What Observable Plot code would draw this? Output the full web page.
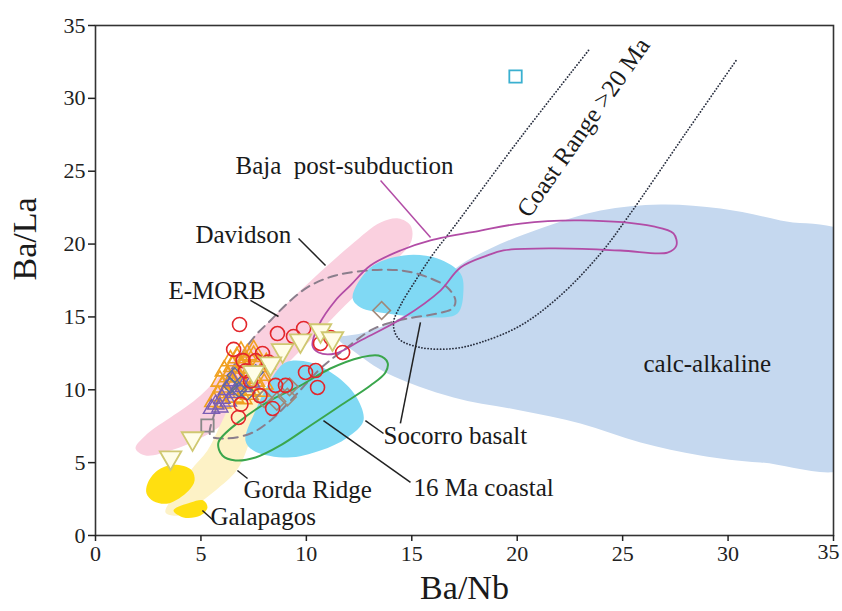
<!DOCTYPE html>
<html>
<head>
<meta charset="utf-8">
<script src="https://cdn.jsdelivr.net/npm/d3@7"></script>
<script src="https://cdn.jsdelivr.net/npm/@observablehq/plot@0.6"></script>
<style>
  html, body { margin: 0; padding: 0; background: #fff; }
  svg { font-family: "Liberation Serif", "Times New Roman", serif; }
</style>
</head>
<body>
<div id="chart"></div>
<script>
// ---- axis ticks ----
const xTicks = [0, 5, 10, 15, 20, 25, 30, 35];
const yTicks = [0, 5, 10, 15, 20, 25, 30, 35];
const lastXTick = [35];

// ---- field outlines (Ba/Nb, Ba/La) ----
const calcAlkaline = [[11.52,13.52],[12.57,13.86],[14.23,14.76],[15.89,16.47],[17.07,18.32],[18.73,19.70],[21.10,21.07],[23.95,22.30],[26.80,22.72],[29.64,22.44],[32.49,21.62],[36.0,20.3],[36.0,4.9],[31.54,5.01],[28.69,5.49],[25.85,6.38],[23.00,7.69],[20.16,8.58],[16.98,9.47],[13.85,11.12],[12.33,12.56]];
const davidson = [[1.90,5.97],[2.37,6.86],[4.98,9.61],[7.35,13.38],[9.72,16.81],[12.09,19.90],[13.52,21.48],[14.37,21.76],[14.94,21.28],[14.99,20.25],[14.23,18.87],[12.57,16.81],[11.14,14.76],[9.72,12.70],[8.06,10.29],[6.88,8.58],[5.22,6.86],[3.56,5.83],[2.37,5.49]];
const gordaRidge = [[3.32,1.58],[3.65,2.61],[4.51,4.46],[5.31,5.83],[6.02,7.89],[6.64,9.61],[7.35,10.29],[8.06,9.75],[7.59,7.89],[7.16,5.83],[6.69,4.46],[5.69,3.09],[4.74,2.06],[3.94,1.37]];
const galapagosA = [[2.47,3.57],[2.94,4.46],[3.70,4.85],[4.55,4.50],[4.70,3.77],[4.40,3.05],[3.46,2.20],[2.75,2.35],[2.42,2.88]];
const galapagosB = [[3.70,1.72],[4.51,2.26],[5.12,2.40],[5.31,1.92],[4.98,1.37],[4.17,1.24]];
const socorro = [[12.19,16.33],[13.04,18.39],[14.61,19.22],[16.22,19.01],[17.31,17.98],[17.45,16.81],[17.17,15.24],[15.89,14.96],[13.85,15.24],[12.57,15.65]];
const coastal16Fill = [[7.11,6.52],[7.59,8.58],[8.30,10.64],[9.01,11.87],[10.20,11.87],[11.38,10.98],[12.33,9.61],[12.71,7.89],[11.95,6.73],[10.67,5.83],[9.11,5.35],[7.49,5.83]];
const eMorb = [[5.45,6.86],[5.69,8.58],[6.17,10.64],[6.88,12.35],[7.59,13.73],[8.30,14.76],[9.25,16.13],[10.20,17.16],[11.38,17.84],[12.90,18.19],[14.46,18.19],[15.65,17.78],[16.69,17.02],[17.07,16.13],[16.93,15.58],[16.22,15.24],[14.80,14.89],[13.85,14.55],[13.04,14.07],[11.86,12.83],[10.67,11.46],[9.48,9.61],[8.30,7.89],[7.35,7.00],[6.17,6.66]];
const bajaPost = [[10.29,13.04],[10.58,14.41],[11.38,16.13],[12.09,17.16],[13.04,18.53],[14.46,19.56],[15.89,20.25],[18.26,20.93],[20.16,21.41],[23.00,21.62],[26.46,21.21],[27.41,20.73],[27.55,19.90],[27.13,19.42],[24.90,19.56],[21.72,19.70],[19.35,19.56],[18.59,19.22],[17.31,18.39],[16.36,16.81],[14.61,14.96],[12.57,13.38],[11.38,12.49],[10.58,12.56]];
const coastal16Line = [[5.83,6.38],[6.88,7.89],[8.30,9.27],[9.72,10.29],[11.14,11.46],[12.57,12.22],[13.42,12.35],[13.85,11.87],[13.75,11.19],[13.04,10.29],[11.62,8.92],[10.20,7.55],[8.77,6.18],[7.59,5.35],[6.64,5.15],[6.02,5.49]];
const coastRange = [[23.38,33.29],[20.16,27.31],[16.98,21.14],[16.03,19.35],[15.18,17.50],[14.46,15.78],[14.13,14.55],[14.37,13.52],[15.41,12.90],[16.98,12.83],[18.26,13.25],[20.16,14.41],[22.05,16.47],[23.95,19.35],[25.23,21.82],[28.08,27.80],[30.45,32.74]];

// ---- samples ----
const redCircles = [[6.83,14.48],[6.55,12.77],[8.63,13.86],[9.39,13.66],[9.87,14.21],[10.67,13.18],[11.15,13.59],[11.72,12.56],[7.92,12.49],[9.96,11.19],[10.44,11.32],[10.53,10.16],[8.54,10.30],[9.01,10.30],[8.40,8.72],[6.78,8.10],[7.12,11.3],[7.6,12.0],[7.8,9.6],[7.35,10.6],[8.2,11.9],[6.9,9.0],[7.0,12.0]];
const creamTriangles = [[3.56,5.35],[4.60,6.66],[8.87,12.70],[9.72,13.38],[10.67,14.07],[11.24,13.52],[8.30,11.80],[7.5,11.2]];
const orangeTriangles = [[5.8,9.6],[6.0,10.2],[6.3,10.9],[6.5,11.6],[6.7,12.2],[6.9,12.6],[7.1,11.9],[7.3,11.3],[7.5,12.3],[7.7,11.6],[6.2,9.8],[6.6,10.4],[6.8,10.9],[7.0,10.4],[7.2,10.8],[7.4,10.0],[7.6,10.6],[7.9,11.0],[8.1,11.8],[5.9,10.6],[6.1,11.3],[6.4,12.0],[6.6,9.5],[7.0,9.4],[7.3,9.7],[7.8,9.9],[8.0,10.4],[6.4,10.5],[6.9,11.5],[7.2,12.4],[5.6,9.2],[6.0,9.1],[7.5,12.7],[7.1,10.0]];
const purpleTriangles = [[5.5,8.7],[5.7,9.0],[6.0,9.4],[5.9,8.8],[6.3,9.2],[6.6,9.8],[7.0,10.2],[6.5,10.6],[6.2,10.0],[7.4,10.5]];
const slateDiamonds = [[6.8,10.0],[7.2,9.8],[6.6,11.0],[7.6,11.2],[6.4,10.3]];
const greyDiamonds = [[9.1,9.5],[8.6,9.2],[8.0,9.4],[9.2,10.2],[13.57,15.44]];
const greySquares = [[5.31,7.55]];
const cyanSquares = [[19.92,31.5]];

// ---- labels ----
const labels = [
  {x: 6.64, y: 25.39, text: "Baja\u00a0\u00a0post-subduction"},
  {x: 4.74, y: 20.59, text: "Davidson"},
  {x: 3.46, y: 16.81, text: "E-MORB"},
  {x: 25.99, y: 11.74, text: "calc-alkaline"},
  {x: 13.66, y: 6.86, text: "Socorro basalt"},
  {x: 15.08, y: 3.23, text: "16 Ma coastal"},
  {x: 7.02, y: 3.09, text: "Gorda Ridge"},
  {x: 5.45, y: 1.24, text: "Galapagos"}
];
const rotatedLabel = [{x: 23.14, y: 28.0, text: "Coast Range >20 Ma"}];
const leaders = [
  {x1: 9.63, y1: 20.38, x2: 10.91, y2: 18.53},
  {x1: 7.35, y1: 16.13, x2: 8.68, y2: 15.03},
  {x1: 14.46, y1: 7.69, x2: 15.41, y2: 14.62},
  {x1: 12.80, y1: 7.89, x2: 13.66, y2: 7.00},
  {x1: 10.81, y1: 7.89, x2: 14.94, y2: 3.64},
  {x1: 6.73, y1: 4.46, x2: 7.21, y2: 3.91},
  {x1: 5.07, y1: 1.72, x2: 5.60, y2: 1.03}
];
const bajaLeader = [{x1: 13.52, y1: 24.36, x2: 15.89, y2: 20.45}];

const X = d => d[0], Y = d => d[1];
const fillShape = (data, color) => Plot.line(data, {x: X, y: Y, fill: color, stroke: "none", curve: "catmull-rom-closed", clip: "frame"});

const chart = Plot.plot({
  width: 842,
  height: 611,
  marginLeft: 95,
  marginRight: 9,
  marginTop: 25,
  marginBottom: 76,
  style: {fontFamily: "Liberation Serif", fontSize: "22px", background: "#fff", color: "#222"},
  x: {domain: [0, 35]},
  y: {domain: [0, 35]},
  marks: [
    fillShape(calcAlkaline, "#c5d8ef"),
    fillShape(davidson, "#fad0df"),
    fillShape(gordaRidge, "#fdf2c6"),
    fillShape(galapagosA, "#ffdf10"),
    fillShape(galapagosB, "#ffdf10"),
    fillShape(socorro, "#80d9f4"),
    fillShape(coastal16Fill, "#80d9f4"),
    Plot.line(coastRange, {x: X, y: Y, stroke: "#2a3040", strokeWidth: 1.8, strokeDasharray: "0.1,3", strokeLinecap: "round", curve: "catmull-rom"}),
    Plot.line(eMorb, {x: X, y: Y, stroke: "#8a7e8c", strokeWidth: 2, strokeDasharray: "9,6", curve: "catmull-rom-closed"}),
    Plot.line(bajaPost, {x: X, y: Y, stroke: "#b24ca6", strokeWidth: 1.8, curve: "catmull-rom-closed"}),
    Plot.line(coastal16Line, {x: X, y: Y, stroke: "#3aa64c", strokeWidth: 2, curve: "catmull-rom-closed"}),
    Plot.link(bajaLeader, {x1: "x1", y1: "y1", x2: "x2", y2: "y2", stroke: "#b24ca6", strokeWidth: 1.5}),
    Plot.link(leaders, {x1: "x1", y1: "y1", x2: "x2", y2: "y2", stroke: "#222", strokeWidth: 1.5}),
    Plot.dot(orangeTriangles, {x: X, y: Y, symbol: "triangle", r: 6.5, stroke: "#f0a020", strokeWidth: 1.6, fill: "none"}),
    Plot.dot(purpleTriangles, {x: X, y: Y, symbol: "triangle", r: 6, stroke: "#7a5db4", strokeWidth: 1.4, fill: "none"}),
    Plot.dot(slateDiamonds, {x: X, y: Y, symbol: "square", rotate: 45, r: 6, stroke: "#5b6b9e", strokeWidth: 1.4, fill: "none"}),
    Plot.dot(greyDiamonds, {x: X, y: Y, symbol: "square", rotate: 45, r: 7, stroke: "#a08878", strokeWidth: 1.6, fill: "none"}),
    Plot.dot(greySquares, {x: X, y: Y, symbol: "square", r: 7, stroke: "#888", strokeWidth: 1.8, fill: "none"}),
    Plot.dot(cyanSquares, {x: X, y: Y, symbol: "square", r: 7, stroke: "#3ab0d0", strokeWidth: 1.8, fill: "none"}),
    Plot.dot(redCircles, {x: X, y: Y, symbol: "circle", r: 7, stroke: "#e3262b", strokeWidth: 1.6, fill: "none"}),
    Plot.dot(creamTriangles, {x: X, y: Y, symbol: "triangle", rotate: 180, r: 8, stroke: "#cfc870", strokeWidth: 1.8, fill: "#fffde8"}),
    Plot.text(labels, {x: "x", y: "y", text: "text", textAnchor: "start", fontSize: 25, fill: "#1a1a1a"}),
    Plot.text(rotatedLabel, {x: "x", y: "y", text: "text", rotate: -55, fontSize: 25, fill: "#1a1a1a"}),
    Plot.frame({stroke: "#333", strokeWidth: 1.6}),
    Plot.axisX({ticks: xTicks, tickSize: 6, tickPadding: 4, strokeWidth: 1.5, label: null, fontSize: 22, tickFormat: d => d === 35 ? "" : String(d)}),
    Plot.text(lastXTick, {x: d => d, frameAnchor: "bottom", dy: 23, dx: -5, fontSize: 22, fill: "#222"}),
    Plot.axisY({ticks: yTicks, tickSize: 7, tickPadding: 3, strokeWidth: 1.5, label: null, fontSize: 22}),
    Plot.text(["Ba/Nb"], {frameAnchor: "bottom", dy: 63, fontSize: 34, fill: "#1a1a1a"}),
    Plot.text(["Ba/La"], {frameAnchor: "left", dx: -70, rotate: -90, fontSize: 34, fill: "#1a1a1a"})
  ]
});
document.getElementById("chart").appendChild(chart);
</script>
</body>
</html>
